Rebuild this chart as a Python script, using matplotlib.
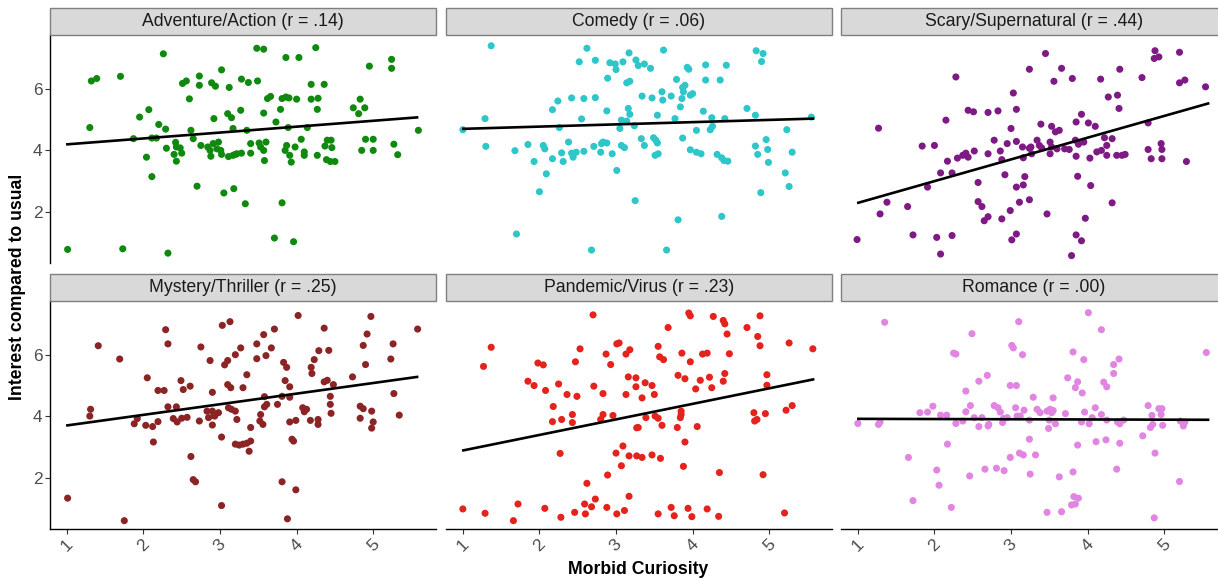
"""
Interest compared to usual vs. morbid curiosity, one panel per genre.
Output: out.png
"""

import numpy as np
import matplotlib
matplotlib.use("Agg")
import matplotlib.pyplot as plt
from matplotlib.patches import Rectangle

plt.rcParams["font.family"] = ["Liberation Sans", "DejaVu Sans"]

# ---- data ----
panel_titles = ["Adventure/Action (r = .14)", "Comedy (r = .06)", "Scary/Supernatural (r = .44)",
                "Mystery/Thriller (r = .25)", "Pandemic/Virus (r = .23)", "Romance (r = .00)"]
panel_colors = ["#0f8a0f", "#2ec6c9", "#7e1a84", "#8b2525", "#e4231c", "#e284e2"]

adv_x = [1.01, 1.30, 1.32, 1.39, 1.70, 1.73, 2.26, 2.32, 1.87, 1.95, 2.07, 2.04, 2.11, 2.11, 2.17, 2.20,
         2.29, 2.30, 2.42, 2.43, 2.48, 2.40, 2.50, 2.43, 2.51, 2.56, 2.60, 2.62, 2.65, 2.73, 2.73, 2.70,
         2.75, 2.89, 2.94, 2.92, 2.84, 2.87, 2.91, 2.88, 2.96, 2.98, 3.01, 3.02, 3.02, 3.05, 3.12, 3.10,
         3.15, 3.11, 3.17, 3.22, 3.18, 3.17, 3.48, 3.57, 3.86, 4.03, 4.25, 4.95, 5.24, 5.24, 3.28, 3.37,
         3.49, 4.19, 4.36, 3.62, 3.66, 3.81, 3.86, 3.90, 4.00, 4.19, 4.28, 4.83, 4.74, 4.89, 4.81, 3.27,
         3.57, 3.79, 4.27, 3.73, 5.59, 3.35, 3.89, 4.14, 3.40, 3.51, 3.60, 3.53, 3.57, 3.40, 3.28, 3.20,
         3.58, 3.87, 3.98, 4.06, 3.85, 3.91, 3.93, 4.10, 4.10, 4.27, 4.40, 4.45, 4.37, 4.46, 4.39, 4.44,
         4.50, 4.90, 5.00, 4.85, 5.00, 5.27, 5.32, 3.33, 3.81, 3.71, 3.96]
adv_y = [0.79, 4.74, 6.25, 6.33, 6.40, 0.81, 7.13, 0.67, 4.38, 5.08, 5.32, 3.78, 3.15, 4.40, 4.40, 4.84,
         4.69, 4.07, 4.26, 4.11, 4.08, 3.87, 3.91, 3.65, 6.17, 6.25, 5.67, 4.65, 4.38, 6.41, 6.11, 2.84,
         4.16, 6.19, 6.08, 5.03, 4.11, 4.00, 4.22, 3.81, 4.05, 4.27, 4.00, 3.87, 6.61, 2.62, 6.04, 5.19,
         5.06, 3.80, 3.84, 3.89, 2.76, 4.71, 7.31, 7.28, 7.01, 7.01, 7.33, 6.73, 6.95, 6.66, 6.31, 6.20,
         6.25, 6.14, 6.14, 5.68, 5.75, 5.68, 5.73, 5.70, 5.66, 5.66, 5.69, 5.66, 5.38, 5.38, 5.19, 5.30,
         5.21, 5.33, 5.33, 4.92, 4.65, 4.65, 4.74, 4.74, 4.22, 4.24, 4.27, 4.11, 4.00, 3.91, 3.91, 3.87,
         3.67, 4.16, 4.11, 4.36, 4.00, 3.84, 3.62, 3.95, 3.84, 3.84, 4.33, 4.33, 4.14, 4.09, 3.70, 3.64,
         3.64, 4.36, 4.36, 4.00, 4.00, 4.20, 3.86, 2.27, 2.30, 1.16, 1.04]

com_x = [1.00, 1.37, 1.29, 1.30, 1.68, 1.70, 1.85, 1.93, 2.00, 2.09, 2.05, 2.07, 2.17, 2.24, 2.17, 2.26,
         2.29, 2.31, 2.38, 2.42, 2.44, 2.48, 2.58, 2.42, 2.58, 2.73, 2.55, 2.52, 2.62, 2.73, 2.68, 2.71,
         2.81, 2.83, 2.80, 2.88, 2.95, 3.01, 2.88, 2.89, 2.92, 2.99, 3.00, 3.09, 3.17, 3.26, 3.14, 3.18,
         3.16, 3.18, 3.05, 3.07, 3.14, 3.07, 3.11, 3.24, 3.25, 3.62, 3.29, 3.37, 3.45, 3.79, 3.93, 3.95,
         4.17, 4.17, 4.36, 4.44, 4.83, 4.92, 4.90, 3.34, 3.47, 3.60, 3.61, 3.72, 3.86, 3.87, 3.90, 3.88,
         3.97, 4.00, 3.84, 3.54, 3.77, 4.14, 4.25, 4.42, 4.71, 4.82, 5.55, 3.33, 3.37, 3.49, 3.52, 3.54,
         3.51, 3.55, 3.87, 3.97, 4.05, 4.11, 4.05, 4.23, 4.26, 4.32, 4.38, 4.41, 4.46, 4.82, 4.96, 4.98,
         4.85, 4.99, 5.23, 5.30, 5.21, 5.26, 4.89, 3.81, 4.38, 3.66]
com_y = [4.67, 7.39, 5.03, 4.13, 3.99, 1.29, 4.19, 3.64, 2.66, 3.24, 4.16, 4.05, 5.32, 5.60, 3.73, 4.74,
         3.92, 3.64, 4.27, 3.91, 3.78, 3.94, 3.97, 5.70, 5.68, 5.71, 5.02, 6.87, 7.31, 6.92, 0.77, 4.13,
         4.22, 4.27, 3.94, 4.24, 3.89, 3.35, 5.28, 6.34, 6.84, 6.80, 6.62, 6.87, 7.16, 6.93, 6.19, 6.24,
         5.36, 5.17, 4.71, 4.98, 4.95, 4.16, 4.09, 4.80, 2.37, 7.25, 6.75, 6.80, 6.66, 6.30, 6.69, 6.63,
         6.77, 6.28, 6.28, 6.76, 7.23, 7.14, 6.88, 5.76, 5.70, 5.90, 5.63, 5.76, 5.68, 6.04, 6.11, 5.90,
         5.79, 5.84, 5.41, 5.14, 5.03, 5.27, 5.06, 5.03, 5.36, 5.14, 5.08, 4.38, 4.16, 4.41, 4.33, 4.24,
         3.84, 3.89, 4.40, 4.02, 3.94, 3.89, 4.65, 4.67, 4.78, 3.87, 3.76, 3.67, 3.65, 4.14, 4.35, 4.03,
         3.87, 3.61, 4.67, 3.94, 3.27, 2.83, 2.63, 1.75, 1.86, 0.77]

scr_x = [0.99, 1.27, 1.29, 1.38, 1.65, 1.72, 1.84, 2.00, 1.91, 2.03, 2.08, 2.23, 2.08, 2.23, 2.17, 2.30,
         2.37, 2.41, 2.44, 2.52, 2.15, 2.28, 2.44, 2.51, 2.57, 2.57, 2.62, 2.65, 2.70, 2.88, 2.99, 3.01,
         3.07, 2.70, 2.83, 2.70, 2.78, 2.86, 2.88, 2.95, 3.00, 3.07, 3.07, 3.03, 3.24, 2.92, 3.07, 3.16,
         3.18, 3.11, 3.24, 3.15, 3.16, 3.24, 3.27, 3.45, 3.66, 3.56, 3.80, 4.17, 4.42, 4.71, 4.88, 4.87,
         4.93, 5.20, 5.20, 5.27, 5.54, 4.27, 4.39, 4.41, 3.39, 3.53, 3.58, 3.63, 3.85, 3.92, 4.01, 4.10,
         4.79, 3.26, 3.34, 3.37, 3.40, 3.51, 3.53, 3.60, 3.51, 3.70, 3.76, 3.84, 3.88, 3.95, 3.85, 4.03,
         4.12, 4.18, 4.25, 4.22, 4.32, 4.25, 4.38, 4.45, 4.49, 4.79, 4.83, 4.96, 4.97, 4.97, 5.29, 3.87,
         4.04, 4.32, 3.47, 3.97, 3.85, 3.92, 3.79]
scr_y = [1.11, 4.72, 1.94, 2.32, 2.18, 1.26, 4.14, 4.16, 2.81, 1.18, 0.64, 1.24, 3.27, 3.27, 3.65, 3.75,
         3.84, 3.91, 3.78, 3.98, 4.98, 6.38, 5.30, 5.25, 2.96, 2.34, 2.18, 1.72, 1.85, 1.78, 2.05, 1.10,
         1.29, 5.23, 5.28, 3.89, 4.33, 3.98, 3.70, 4.22, 4.71, 4.29, 5.33, 5.86, 6.63, 3.21, 2.81, 2.88,
         3.15, 2.32, 2.40, 4.11, 3.76, 4.07, 3.89, 7.14, 6.66, 6.24, 6.33, 6.31, 6.63, 6.36, 7.23, 6.98,
         7.03, 7.18, 6.19, 6.28, 6.06, 5.73, 5.79, 5.36, 4.85, 4.78, 4.60, 4.65, 4.92, 5.17, 4.89, 4.78,
         4.89, 4.11, 4.33, 4.16, 4.08, 4.27, 4.11, 4.05, 3.89, 4.05, 4.03, 4.33, 4.20, 4.27, 3.81, 3.75,
         3.95, 4.00, 3.84, 4.41, 4.38, 4.16, 3.84, 3.84, 3.87, 4.03, 3.73, 4.22, 4.03, 3.73, 3.64, 3.16,
         2.86, 2.30, 1.94, 1.80, 1.26, 1.07, 0.59]

mys_x = [1.01, 1.31, 1.30, 1.41, 1.69, 1.75, 1.88, 1.92, 2.03, 2.12, 2.19, 2.13, 2.05, 2.19, 2.27, 2.29,
         2.32, 2.32, 2.43, 2.39, 2.44, 2.50, 2.57, 2.49, 2.52, 2.61, 2.62, 2.65, 2.68, 2.73, 2.75, 2.83,
         2.85, 2.90, 2.92, 2.93, 2.98, 2.90, 2.87, 2.90, 3.02, 3.02, 3.03, 3.13, 3.06, 3.10, 3.10, 3.14,
         3.20, 3.11, 3.15, 3.20, 3.22, 3.20, 3.25, 3.27, 3.30, 3.35, 3.48, 3.57, 3.71, 3.67, 3.60, 3.48,
         4.02, 3.83, 3.87, 3.85, 3.91, 4.36, 4.29, 4.42, 4.23, 4.19, 4.20, 4.97, 4.92, 4.87, 4.90, 5.26,
         5.23, 5.58, 4.36, 4.40, 4.48, 4.73, 5.27, 3.58, 3.58, 3.61, 3.53, 3.52, 3.56, 3.40, 3.75, 3.81,
         3.91, 3.91, 3.99, 4.08, 4.13, 4.10, 4.18, 4.28, 4.28, 4.44, 4.44, 4.45, 4.83, 4.87, 4.83, 4.98,
         5.00, 4.98, 5.34, 3.30, 3.35, 3.40, 3.38, 3.94, 3.96, 3.81, 3.99, 3.88]
mys_y = [1.35, 4.23, 4.01, 6.29, 5.86, 0.62, 3.76, 3.93, 3.71, 3.67, 3.83, 3.17, 5.25, 4.84, 4.84, 6.81,
         6.35, 4.31, 4.31, 3.93, 3.82, 3.94, 3.97, 5.16, 4.87, 4.98, 2.70, 1.95, 1.88, 3.85, 6.25, 4.17,
         3.96, 4.17, 4.03, 4.01, 4.12, 3.72, 5.81, 4.78, 3.33, 1.11, 6.95, 7.07, 5.67, 5.81, 5.03, 4.93,
         6.00, 4.28, 4.23, 4.17, 3.90, 3.10, 3.07, 6.22, 4.93, 5.35, 6.35, 6.65, 6.83, 6.22, 5.97, 5.87,
         7.27, 5.75, 5.59, 5.16, 4.96, 6.86, 6.13, 6.14, 5.84, 5.59, 5.39, 7.24, 6.67, 6.30, 5.68, 6.35,
         5.86, 6.83, 5.12, 5.17, 5.03, 5.28, 4.74, 4.64, 4.31, 4.39, 4.06, 3.85, 3.74, 3.64, 4.39, 4.65,
         4.62, 3.82, 3.87, 4.28, 4.23, 4.15, 3.87, 3.90, 3.74, 4.65, 4.39, 4.10, 4.33, 4.25, 3.94, 4.17,
         3.82, 3.62, 4.04, 3.10, 3.13, 3.20, 2.87, 3.26, 3.20, 1.88, 1.62, 0.68]

pan_x = [1.00, 1.29, 1.27, 1.37, 1.66, 1.72, 1.85, 1.93, 1.98, 2.05, 2.08, 2.07, 2.18, 2.17, 2.29, 2.25,
         2.27, 2.28, 2.36, 2.49, 2.43, 2.43, 2.47, 2.53, 2.46, 2.59, 2.60, 2.62, 2.68, 2.73, 2.70, 2.71,
         2.80, 2.83, 2.96, 2.83, 2.87, 2.93, 2.88, 2.89, 3.00, 3.01, 3.01, 3.04, 3.07, 3.09, 3.11, 3.17,
         3.17, 3.13, 3.18, 3.13, 3.16, 3.26, 3.26, 3.27, 3.27, 3.95, 3.97, 4.27, 4.40, 4.42, 4.45, 4.71,
         4.88, 4.85, 4.88, 3.68, 3.55, 3.57, 3.62, 3.86, 3.97, 4.13, 4.19, 4.48, 5.26, 5.57, 3.38, 3.47,
         3.50, 3.34, 3.81, 3.90, 4.10, 4.22, 4.04, 4.25, 4.42, 4.40, 4.97, 4.97, 3.29, 3.39, 3.51, 3.55,
         3.60, 3.80, 3.84, 3.85, 3.85, 4.06, 4.80, 4.81, 4.84, 4.95, 5.22, 5.30, 3.90, 3.34, 3.47, 3.58,
         3.88, 4.35, 4.92, 3.55, 3.72, 3.76, 3.94, 3.99, 4.19, 4.34, 5.20]
pan_y = [1.00, 0.86, 5.62, 6.24, 0.62, 1.16, 5.14, 5.00, 5.73, 5.67, 4.84, 1.02, 4.32, 3.83, 3.90, 5.05,
         2.80, 0.73, 4.71, 4.65, 4.06, 3.80, 5.77, 6.19, 0.89, 1.16, 0.84, 1.83, 1.07, 1.32, 7.29, 4.98,
         3.90, 4.06, 4.03, 4.74, 6.02, 5.68, 1.05, 2.10, 2.81, 0.84, 6.35, 6.38, 2.40, 3.04, 0.95, 1.41,
         2.72, 6.02, 6.16, 4.71, 5.28, 5.25, 4.96, 3.63, 2.72, 7.35, 7.26, 7.24, 7.11, 7.00, 6.67, 6.88,
         7.26, 6.59, 6.29, 6.88, 6.27, 5.93, 5.84, 6.05, 5.77, 6.02, 6.05, 6.03, 6.38, 6.19, 5.09, 5.00,
         4.71, 4.60, 5.33, 5.22, 5.17, 5.27, 4.89, 4.93, 5.39, 5.14, 5.35, 5.01, 3.64, 3.96, 4.01, 3.94,
         3.71, 3.64, 3.96, 4.17, 4.06, 3.67, 4.12, 3.85, 3.90, 4.09, 4.20, 4.35, 3.17, 2.67, 2.75, 2.64,
         2.38, 2.18, 2.11, 0.84, 1.05, 0.78, 1.02, 0.75, 1.00, 0.76, 0.87]

rom_x = [1.00, 1.27, 1.29, 1.35, 1.66, 1.72, 1.81, 1.91, 1.98, 2.03, 2.06, 2.08, 2.16, 2.17, 2.22, 2.25,
         2.28, 2.28, 2.37, 2.41, 2.47, 2.41, 2.49, 2.46, 2.52, 2.62, 2.58, 2.70, 2.71, 2.58, 2.69, 2.66,
         2.81, 2.91, 2.99, 2.78, 2.83, 2.86, 2.90, 2.89, 2.95, 2.99, 3.07, 3.01, 3.03, 3.15, 3.10, 3.06,
         3.08, 3.12, 3.17, 3.24, 3.24, 3.11, 3.16, 3.25, 3.29, 4.01, 4.18, 3.81, 3.95, 4.34, 4.34, 4.41,
         3.74, 3.87, 3.84, 3.93, 4.21, 4.25, 5.55, 3.55, 3.34, 3.38, 3.47, 3.51, 3.53, 3.55, 3.50, 3.58,
         3.49, 3.71, 3.96, 3.92, 4.02, 4.06, 4.10, 4.18, 4.25, 4.39, 4.42, 4.47, 4.79, 4.84, 4.93, 4.97,
         4.96, 4.82, 4.85, 4.98, 5.21, 5.27, 5.25, 3.32, 3.87, 4.11, 4.24, 4.42, 4.72, 4.88, 4.38, 3.63,
         3.81, 5.20, 3.82, 3.88, 3.79, 3.84, 3.47, 3.66, 4.87]
rom_y = [3.77, 3.74, 3.82, 7.05, 2.67, 1.27, 4.12, 4.14, 4.33, 2.26, 1.77, 4.04, 4.04, 3.10, 1.05, 6.05,
         6.02, 3.77, 3.85, 4.82, 4.35, 4.15, 6.68, 2.07, 3.96, 3.96, 3.67, 3.69, 3.74, 5.14, 5.33, 2.29,
         2.32, 2.24, 2.67, 4.35, 4.28, 4.14, 3.93, 3.80, 3.96, 5.00, 5.00, 6.30, 6.22, 6.00, 7.07, 4.28,
         4.01, 4.01, 4.20, 3.88, 3.26, 2.81, 2.75, 2.13, 4.62, 7.36, 6.81, 6.09, 5.84, 5.68, 5.39, 5.86,
         5.25, 5.12, 4.93, 4.76, 5.11, 4.96, 6.07, 4.60, 4.23, 4.12, 4.17, 4.23, 4.12, 4.19, 3.88, 3.76,
         3.61, 4.09, 4.14, 3.82, 3.76, 3.96, 4.28, 4.06, 3.88, 3.82, 3.76, 3.88, 4.35, 4.03, 4.25, 4.25,
         4.06, 3.64, 3.74, 3.71, 3.85, 3.82, 3.69, 2.75, 3.07, 3.18, 3.24, 3.13, 3.37, 2.81, 2.29, 2.04,
         2.20, 1.89, 1.40, 1.35, 1.13, 1.16, 0.89, 0.91, 0.71]

x_all = [adv_x, com_x, scr_x, mys_x, pan_x, rom_x]
y_all = [adv_y, com_y, scr_y, mys_y, pan_y, rom_y]
x_ticks = [1, 2, 3, 4, 5]
y_ticks = [2, 4, 6]


def main():
    W, H = 1218, 580
    fig = plt.figure(figsize=(W / 100, H / 100), dpi=100)

    # panel placement in pixels (left, top) ; width/height
    col_left = [50, 446, 841]
    row_top = [35, 301]
    pw, ph = 386, 228
    strip_h = 27

    lo = min(min(v) for v in x_all)
    hi = max(max(v) for v in x_all)

    for i in range(6):
        r, c = divmod(i, 3)
        left = col_left[c] / W
        bottom = 1 - (row_top[r] + ph) / H
        ax = fig.add_axes([left, bottom, pw / W, ph / H])

        xs = np.array(x_all[i])
        ys = np.array(y_all[i])
        ax.scatter(xs, ys, s=26, color=panel_colors[i], edgecolors="none", zorder=2)

        # linear fit, like geom_smooth(method = "lm", se = FALSE)
        b, a = np.polyfit(xs, ys, 1)
        line_x = np.array([lo, hi])
        ax.plot(line_x, a + b * line_x, color="black", lw=1.9, zorder=3,
                solid_capstyle="butt")

        ax.set_xlim(0.78, 5.82)
        ax.set_ylim(0.35, 7.74)
        ax.set_xticks(x_ticks)
        ax.set_yticks(y_ticks)
        ax.set_facecolor("white")

        for s in ["top", "right"]:
            ax.spines[s].set_visible(False)
        ax.spines["left"].set_visible(c == 0)
        ax.spines["bottom"].set_visible(r == 1)
        for s in ["left", "bottom"]:
            ax.spines[s].set_linewidth(1.0)
            ax.spines[s].set_color("black")

        ax.tick_params(axis="both", length=3.5, width=0.8, color="#333333",
                       labelsize=12.5, labelcolor="#4d4d4d", pad=2)
        if c != 0:
            ax.tick_params(axis="y", left=False, labelleft=False)
        if r == 0:
            ax.tick_params(axis="x", bottom=False, labelbottom=False)
        else:
            for lab in ax.get_xticklabels():
                lab.set_rotation(45)
                lab.set_ha("center")
                lab.set_va("top")

        # facet strip
        sh = strip_h / ph
        ax.add_patch(Rectangle((0, 1), 1, sh, transform=ax.transAxes,
                               facecolor="#d9d9d9", edgecolor="#7f7f7f", lw=1.0,
                               clip_on=False, zorder=5))
        ax.text(0.5, 1 + sh / 2, panel_titles[i], transform=ax.transAxes,
                ha="center", va="center", fontsize=12.7, color="#1a1a1a", zorder=6)

    fig.text(18 / W, 1 - 287 / H, "Interest compared to usual", rotation=90,
             ha="center", va="center", fontsize=12.7, fontweight="bold")
    fig.text(638 / W, 1 - 569 / H, "Morbid Curiosity", ha="center", va="center",
             fontsize=12.7, fontweight="bold")

    fig.savefig("out.png", dpi=100, facecolor="white")


if __name__ == "__main__":
    main()
